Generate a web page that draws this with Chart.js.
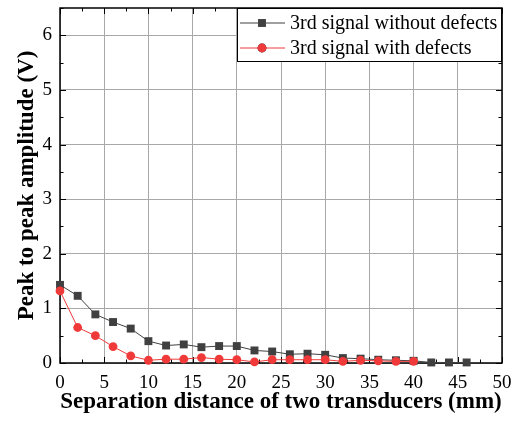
<!DOCTYPE html>
<html>
<head>
<meta charset="utf-8">
<script src="https://cdn.jsdelivr.net/npm/chart.js@4/dist/chart.umd.min.js"></script>
<style>
  html, body { margin: 0; padding: 0; background: #fff; }
</style>
</head>
<body>
<canvas id="chart" width="512" height="422"></canvas>
<script>
// Peak-to-peak amplitude vs transducer separation

// Data
const distNoDefect = [0,2,4,6,8,10,12,14,16,18,20,22,24,26,28,30,32,34,36,38,40,42,44,46];
const ampNoDefect  = [1.43,1.23,0.89,0.75,0.63,0.40,0.32,0.34,0.29,0.31,0.31,0.23,0.21,0.16,0.17,0.15,0.09,0.08,0.06,0.05,0.04,0.01,0.01,0.01];
const distDefect   = [0,2,4,6,8,10,12,14,16,18,20,22,24,26,28,30,32,34,36,38,40];
const ampDefect    = [1.32,0.65,0.50,0.30,0.13,0.05,0.07,0.07,0.10,0.07,0.06,0.02,0.06,0.06,0.06,0.06,0.03,0.05,0.04,0.03,0.03];
const seriesNames  = ['3rd signal without defects', '3rd signal with defects'];
const xTitle = 'Separation distance of two transducers (mm)';
const yTitle = 'Peak to peak amplitude (V)';

const serif = "'Liberation Serif', 'Times New Roman', serif";
const GRAY = '#404040', RED = '#f03a3a';

const toPts = (xs, ys) => xs.map((x, i) => ({ x, y: ys[i] }));

// box around plot + inward major/minor ticks on all four sides
const frame = {
  id: 'frame',
  beforeDatasetsDraw(chart){
    const { ctx, chartArea: a, scales: { x, y } } = chart;
    ctx.save();
    ctx.strokeStyle = '#000';
    ctx.lineWidth = 1;
    const seg = (x1, y1, x2, y2) => { ctx.beginPath(); ctx.moveTo(x1, y1); ctx.lineTo(x2, y2); ctx.stroke(); };
    for(let v = 0; v <= 50; v += 2.5){
      const px = Math.round(x.getPixelForValue(v)) + 0.5;
      const len = v % 5 === 0 ? 6 : 3.5;
      seg(px, a.bottom, px, a.bottom - len);
      seg(px, a.top, px, a.top + len);
    }
    for(let v = 0; v <= 6.5; v += 0.5){
      const py = Math.round(y.getPixelForValue(v)) + 0.5;
      const len = v % 1 === 0 ? 6 : 3.5;
      seg(a.left, py, a.left + len, py);
      seg(a.right, py, a.right - len, py);
    }
    ctx.lineWidth = 1.5;
    ctx.strokeRect(a.left, a.top, a.right - a.left, a.bottom - a.top);
    ctx.restore();
  }
};

// legend box in the top-right corner of the plot
const boxLegend = {
  id: 'boxLegend',
  afterDraw(chart){
    const { ctx, chartArea: a } = chart;
    const bx = 237, by = a.top, bw = a.right - bx, bh = 54;
    ctx.save();
    ctx.fillStyle = '#fff';
    ctx.fillRect(bx, by, bw, bh);
    ctx.strokeStyle = '#000';
    ctx.lineWidth = 1;
    ctx.strokeRect(bx + 0.5, by + 0.5, bw - 1, bh - 1);
    ctx.font = '20px ' + serif;
    ctx.textBaseline = 'middle';
    chart.data.datasets.forEach((ds, i) => {
      const ry = by + 15 + i * 25;
      ctx.strokeStyle = ds.borderColor;
      ctx.lineWidth = 1;
      ctx.beginPath(); ctx.moveTo(bx + 3, ry); ctx.lineTo(bx + 48, ry); ctx.stroke();
      Chart.helpers.drawPoint(ctx, {
        pointStyle: ds.pointStyle, radius: ds.pointRadius, rotation: 0, borderWidth: 0
      }, bx + 25, ry);
      ctx.fillStyle = ds.pointBackgroundColor;
      ctx.fill();
      ctx.fillStyle = '#000';
      ctx.fillText(ds.label, bx + 53, ry + 1);
    });
    ctx.restore();
  }
};

new Chart(document.getElementById('chart'), {
  type: 'line',
  data: {
    datasets: [
      {
        label: seriesNames[0],
        data: toPts(distNoDefect, ampNoDefect),
        borderColor: GRAY, borderWidth: 1,
        pointStyle: 'rect', pointRadius: 5.6,
        pointBackgroundColor: GRAY, pointBorderColor: GRAY, pointBorderWidth: 0,
        order: 1, clip: false
      },
      {
        label: seriesNames[1],
        data: toPts(distDefect, ampDefect),
        borderColor: RED, borderWidth: 1,
        pointStyle: 'circle', pointRadius: 4.4,
        pointBackgroundColor: RED, pointBorderColor: RED, pointBorderWidth: 0,
        order: 0, clip: false
      }
    ]
  },
  options: {
    responsive: false,
    animation: false,
    layout: { padding: { top: 8, right: 10, left: 0, bottom: 0 } },
    plugins: { legend: { display: false }, tooltip: { enabled: false } },
    scales: {
      x: {
        type: 'linear', min: 0, max: 50,
        ticks: { stepSize: 5, color: '#000', font: { family: serif, size: 19 }, padding: 9, maxRotation: 0 },
        grid: { color: '#a8a8a8', drawTicks: false, lineWidth: 1 },
        border: { display: false },
        title: { display: true, text: xTitle, color: '#000', font: { family: serif, size: 23, weight: 'bold' }, padding: { top: 0, bottom: 6 } },
        afterFit(s){ s.height = 59; s.paddingLeft = 0; s.paddingRight = 0; }
      },
      y: {
        type: 'linear', min: 0, max: 6.5,
        ticks: { stepSize: 1, includeBounds: false, color: '#000', font: { family: serif, size: 19 }, padding: 8 },
        grid: { color: '#a8a8a8', drawTicks: false, lineWidth: 1 },
        border: { display: false },
        title: { display: true, text: yTitle, color: '#000', font: { family: serif, size: 23, weight: 'bold' }, padding: { top: 13, bottom: 0 } },
        afterFit(s){ s.width = 60; s.paddingTop = 0; s.paddingBottom = 0; }
      }
    }
  },
  plugins: [frame, boxLegend]
});
</script>
</body>
</html>
